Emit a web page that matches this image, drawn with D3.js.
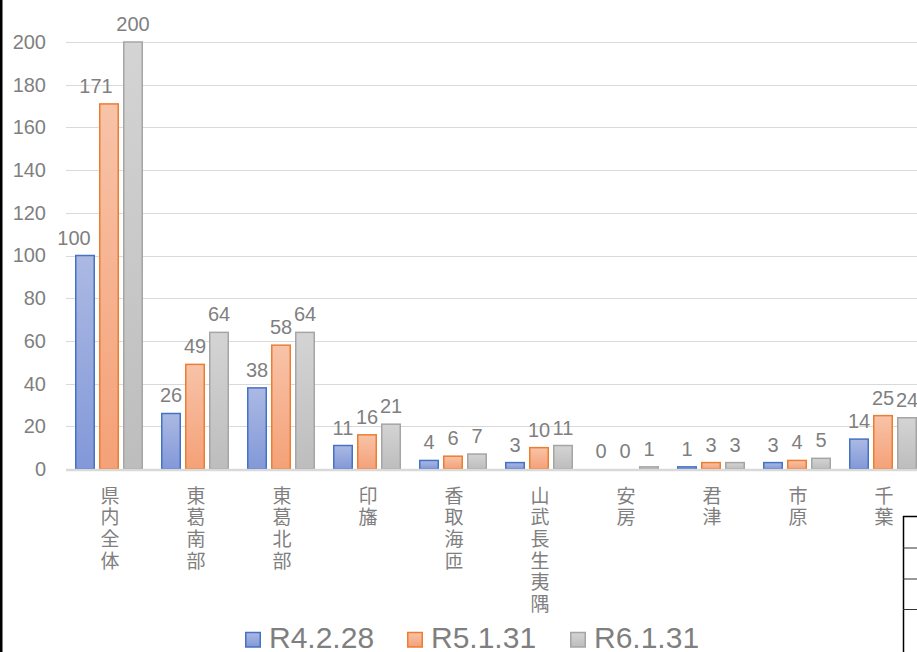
<!DOCTYPE html>
<html>
<head>
<meta charset="utf-8">
<script src="https://cdn.jsdelivr.net/npm/d3@7"></script>
<style>
  html, body { margin: 0; padding: 0; background: #fff; overflow: hidden; }
  svg { display: block; }
  text { font-family: "Liberation Sans", Arial, "Noto Sans CJK JP", sans-serif; fill: #7f7f7f; }
  .vlabel { writing-mode: vertical-rl; text-orientation: upright; font-family: "Noto Sans CJK JP", sans-serif; }
</style>
</head>
<body>
<svg id="chart" width="917" height="652"></svg>
<script>
// ---- data ----
const categories = ["県内全体", "東葛南部", "東葛北部", "印旛", "香取海匝", "山武長生夷隅", "安房", "君津", "市原", "千葉"];
const seriesNames = ["R4.2.28", "R5.1.31", "R6.1.31"];
const valuesR4 = [100, 26, 38, 11, 4, 3, 0, 1, 3, 14];
const valuesR5 = [171, 49, 58, 16, 6, 10, 0, 3, 4, 25];
const valuesR6 = [200, 64, 64, 21, 7, 11, 1, 3, 5, 24];
const yTicks = [0, 20, 40, 60, 80, 100, 120, 140, 160, 180, 200];

const seriesValues = [valuesR4, valuesR5, valuesR6];
const W = 917, H = 652;
const svg = d3.select("#chart");

const styles = [
  { top: "#abb9e3", bottom: "#8298d8", stroke: "#4472c4" },
  { top: "#f8c3a8", bottom: "#f4a177", stroke: "#ed7d31" },
  { top: "#d4d4d4", bottom: "#bdbdbd", stroke: "#a5a5a5" }
];

const defs = svg.append("defs");
styles.forEach((s, i) => {
  const g = defs.append("linearGradient").attr("id", "grad" + i)
    .attr("x1", 0).attr("y1", 0).attr("x2", 0).attr("y2", 1);
  g.append("stop").attr("offset", "0%").attr("stop-color", s.top);
  g.append("stop").attr("offset", "100%").attr("stop-color", s.bottom);
});

// scales
const x = d3.scaleBand().domain(categories).range([66, 926]).paddingInner(0).paddingOuter(0);
const xs = d3.scaleBand().domain(seriesNames).range([9, 77]).paddingInner(4 / 24).paddingOuter(0);
const y = d3.scaleLinear().domain([0, 200]).range([469, 42]);

// gridlines + tick labels
const yAxis = d3.axisLeft(y).tickValues(yTicks).tickSize(-(W - 66)).tickPadding(20);
const ga = svg.append("g").attr("transform", "translate(66,0)").call(yAxis);
ga.select(".domain").remove();
ga.selectAll(".tick line").attr("stroke", "#d9d9d9").attr("stroke-width", 1)
  .attr("shape-rendering", "crispEdges");
ga.selectAll(".tick text").attr("font-size", 20).attr("fill", "#7f7f7f")
  .style("font-family", "'Liberation Sans', Arial, sans-serif");
ga.selectAll(".tick").filter(d => d === 0).select("line").attr("stroke-opacity", 0);

// bars
const data = [];
categories.forEach((c, ci) => {
  seriesNames.forEach((s, si) => {
    data.push({ cat: c, ci, series: s, si, value: seriesValues[si][ci] });
  });
});

svg.append("g").selectAll("rect").data(data.filter(d => d.value > 0)).join("rect")
  .attr("x", d => x(d.cat) + xs(d.series) + 0.75)
  .attr("y", d => y(d.value))
  .attr("width", xs.bandwidth() - 1.5)
  .attr("height", d => y(0) - y(d.value))
  .attr("fill", d => `url(#grad${d.si})`)
  .attr("stroke", d => styles[d.si].stroke)
  .attr("stroke-width", 1.5);

// x axis baseline
svg.append("line").attr("x1", 66).attr("x2", W).attr("y1", y(0) + 1).attr("y2", y(0) + 1)
  .attr("stroke", "#d9d9d9").attr("stroke-width", 2.5);

// data labels (県内全体 labels nudged left as in the original layout)
const nudge = { "0-0": -11, "0-1": -13 };
svg.append("g").selectAll("text").data(data).join("text")
  .attr("x", d => x(d.cat) + xs(d.series) + xs.bandwidth() / 2 + (nudge[d.ci + "-" + d.si] || 0))
  .attr("y", d => y(d.value) - 11)
  .attr("text-anchor", "middle")
  .attr("font-size", 20)
  .text(d => d.value);

// category labels, vertical text
svg.append("g").selectAll("text").data(categories).join("text")
  .attr("class", "vlabel")
  .attr("x", c => x(c) + x.bandwidth() / 2 + 1)
  .attr("y", 486)
  .attr("font-size", 19)
  .attr("letter-spacing", 2.6)
  .text(c => c);

// legend
const legendPos = [245, 407, 570];
const lg = svg.append("g");
seriesNames.forEach((s, i) => {
  lg.append("rect").attr("x", legendPos[i] + 0.75).attr("y", 632.5).attr("width", 14.5).attr("height", 14.5)
    .attr("fill", `url(#grad${i})`).attr("stroke", styles[i].stroke).attr("stroke-width", 1.5);
  lg.append("text").attr("x", legendPos[i] + 24).attr("y", 647.5).attr("font-size", 30).text(s);
});

// left border line
svg.append("rect").attr("x", 0).attr("y", 0).attr("width", 2.5).attr("height", H).attr("fill", "#000");

// fragment of adjacent table (bottom-right)
const tb = svg.append("g");
tb.append("line").attr("x1", 903.5).attr("x2", 903.5).attr("y1", 516).attr("y2", H).attr("stroke", "#000").attr("stroke-width", 1.5);
tb.append("line").attr("x1", 903).attr("x2", W).attr("y1", 516.5).attr("y2", 516.5).attr("stroke", "#000").attr("stroke-width", 1.5);
[548, 579, 609.5].forEach(yy => {
  tb.append("line").attr("x1", 903).attr("x2", W).attr("y1", yy).attr("y2", yy).attr("stroke", "#333").attr("stroke-width", 1);
});
</script>
</body>
</html>
